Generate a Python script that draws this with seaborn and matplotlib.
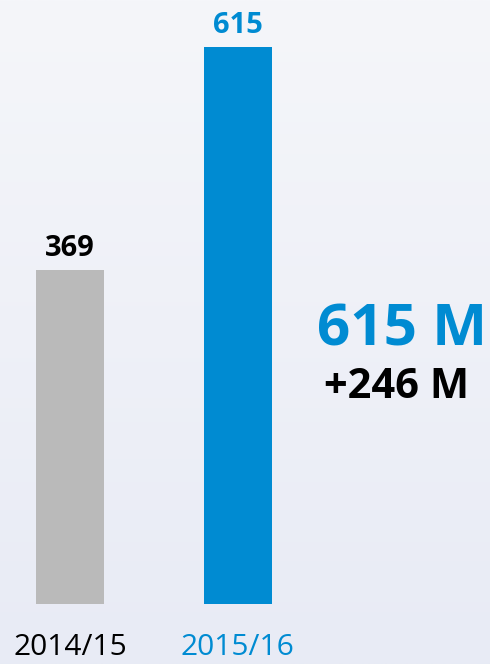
import numpy as np
import pandas as pd
import seaborn as sb
from matplotlib import pyplot as plt

seasons = ["2014/15", "2015/16"]
values = [369, 615]
bar_colors = ["#bababa", "#008bd2"]
label_colors = ["#000000", "#008bd2"]
total_text = "615 M"
change_text = "+246 M"

sb.set_style("white")
plt.rcParams['font.family'] = ['Open Sans', 'DejaVu Sans']

df = pd.DataFrame({"season": seasons, "value": values})

fig = plt.figure(figsize=(4.9, 6.64), dpi=100)

# soft background gradient
bg = fig.add_axes([0, 0, 1, 1])
grad = np.linspace(0, 1, 256).reshape(-1, 1)
bg.imshow(grad, aspect='auto', cmap=sb.blend_palette(["#f5f6fa", "#e8ebf5"], as_cmap=True),
          extent=[0, 1, 0, 1], origin='upper')
bg.axis('off')

ax = fig.add_axes([0, 60 / 664, 1, 557 / 664])
ax.patch.set_alpha(0)
sb.barplot(data=df, x="season", y="value", hue="season", palette=bar_colors,
           width=0.406, legend=False, ax=ax, saturation=1, linewidth=0)
ax.set_ylim(0, 615)
ax.set_xlim(-0.418, 2.507)
sb.despine(ax=ax, left=True, bottom=True)
ax.set_yticks([])
ax.set_xlabel("")
ax.set_ylabel("")
ax.tick_params(axis='x', length=0, pad=21)
ax.set_xticks([0, 1])
ax.set_xticklabels(seasons, fontsize=21.5)
for t, c in zip(ax.get_xticklabels(), label_colors):
    t.set_color(c)

for i, v in enumerate(values):
    ax.annotate(str(v), (i, v), xytext=(0, 5), textcoords='offset points',
                ha='center', va='bottom', fontsize=21, fontweight='bold', color=label_colors[i])

fig.text(0.82, 0.503, total_text, ha='center', va='center', fontsize=42,
         fontweight='bold', color="#008bd2")
fig.text(0.81, 0.416, change_text, ha='center', va='center', fontsize=30,
         fontweight='bold', color="#000000")

plt.savefig("out.png", dpi=100)
